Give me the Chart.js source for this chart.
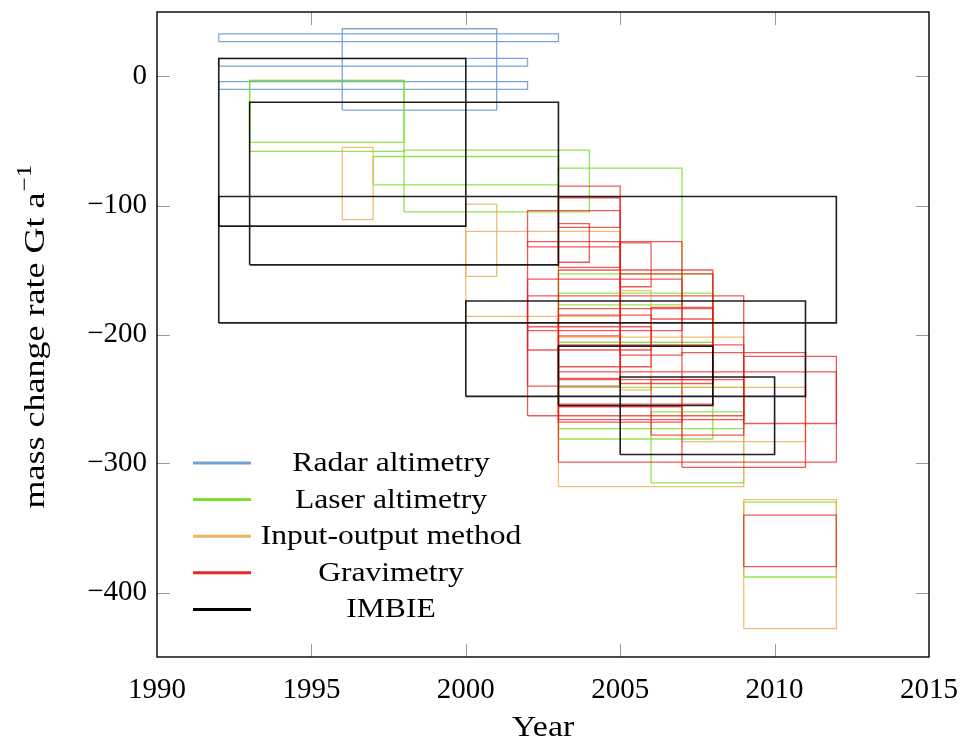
<!DOCTYPE html>
<html>
<head>
<meta charset="utf-8">
<script src="https://cdn.jsdelivr.net/npm/chart.js@4/dist/chart.umd.min.js"></script>
<style>
html,body{margin:0;padding:0;background:#fff;}
#wrap{width:963px;height:742px;position:relative;}
</style>
</head>
<body>
<div id="wrap"><canvas id="c" width="963" height="742"></canvas></div>
<script>
// ---------- data (years span, rate range in Gt/a) ----------
const seriesNames = ['Radar altimetry', 'Laser altimetry', 'Input-output method', 'Gravimetry', 'IMBIE'];
const xTitle = 'Year';
const yTitle = 'mass change rate Gt a';
const yTitleSup = '\u22121';

const radarStart = [1992, 1992, 1992, 1996];
const radarEnd   = [2003, 2002, 2002, 2001];
const radarLow   = [27, 8, -10, -26];
const radarHigh  = [33, 14, -4, 37];

const laserStart = [1993, 1993, 1997, 1998, 2003, 2003, 2003, 2003, 2006, 2009];
const laserEnd   = [1998, 1998, 2003, 2004, 2007, 2008, 2008, 2009, 2009, 2012];
const laserLow   = [-51, -58, -84, -105, -177, -206, -281, -273, -315, -388];
const laserHigh  = [-3, -3, -62, -57, -71, -153, -168, -241, -260, -330];

const ioStart = [1996, 2000, 2000, 2005, 2007, 2003, 2009];
const ioEnd   = [1997, 2001, 2005, 2006, 2011, 2009, 2012];
const ioLow   = [-111, -155, -186, -243, -283, -318, -428];
const ioHigh  = [-55, -99, -120, -166, -241, -202, -328];

const gravStart = [2003, 2003, 2002, 2003, 2005, 2005, 2002, 2003, 2005, 2002, 2002, 2006, 2003, 2003, 2002, 2003, 2006, 2003, 2007, 2009, 2003, 2003, 2009];
const gravEnd   = [2005, 2005, 2005, 2004, 2006, 2007, 2005, 2008, 2008, 2007, 2009, 2008, 2008, 2006, 2006, 2009, 2009, 2007, 2011, 2012, 2012, 2005, 2012];
const gravLow   = [-117, -148, -132, -144, -163, -216, -240, -254, -238, -197, -263, -188, -235, -225, -212, -266, -278, -268, -303, -269, -299, -234, -380];
const gravHigh  = [-85, -94, -104, -114, -129, -128, -128, -150, -153, -157, -170, -179, -180, -185, -194, -208, -235, -256, -214, -217, -229, -201, -340];

const imbieStart = [1992, 1993, 1992, 2000, 2003, 2005];
const imbieEnd   = [2000, 2003, 2012, 2011, 2008, 2010];
const imbieLow   = [-116, -146, -191, -248, -255, -293];
const imbieHigh  = [14, -20, -93, -174, -209, -233];

const xTicks = [1990, 1995, 2000, 2005, 2010, 2015];
const yTicks = [-400, -300, -200, -100, 0];

// ---------- styles ----------
const boxColors = ['rgba(100,150,212,0.85)', 'rgba(120,222,35,0.8)', 'rgba(236,172,85,0.8)', 'rgba(236,25,25,0.72)', 'rgba(0,0,0,0.88)'];
const legendColors = ['#73a1d6', '#7ee02a', '#eab464', '#e8262a', '#000000'];
const FONT = '"Liberation Serif", "DejaVu Serif", serif';
const WIDEN = 1.17; // approximate the wider Computer Modern letterforms

function boxes(s, e, lo, hi, k) {
  return s.map((x0, i) => ({
    label: seriesNames[k],
    data: [
      {x: x0, y: lo[i]}, {x: e[i], y: lo[i]}, {x: e[i], y: hi[i]},
      {x: x0, y: hi[i]}, {x: x0, y: lo[i]}
    ],
    showLine: true,
    fill: false,
    tension: 0,
    pointRadius: 0,
    pointHoverRadius: 0,
    borderColor: boxColors[k],
    borderWidth: k === 4 ? 1.6 : 1.3,
    order: 4 - k
  }));
}

const datasets = [].concat(
  boxes(radarStart, radarEnd, radarLow, radarHigh, 0),
  boxes(laserStart, laserEnd, laserLow, laserHigh, 1),
  boxes(ioStart, ioEnd, ioLow, ioHigh, 2),
  boxes(gravStart, gravEnd, gravLow, gravHigh, 3),
  boxes(imbieStart, imbieEnd, imbieLow, imbieHigh, 4)
);

function wideText(ctx, text, x, y, k) {
  ctx.save();
  ctx.translate(x, y);
  ctx.scale(k || WIDEN, 1);
  ctx.fillText(text, 0, 0);
  ctx.restore();
}

const framePlugin = {
  id: 'frame',
  afterDatasetsDraw(chart) {
    const {ctx, chartArea: a, scales: {x, y}} = chart;
    ctx.save();
    ctx.strokeStyle = '#9a9a9a';
    ctx.lineWidth = 1;
    const L = 13;
    xTicks.forEach(v => {
      const p = Math.round(x.getPixelForValue(v)) + 0.5;
      if (p <= a.left + 1 || p >= a.right - 1) return;
      ctx.beginPath(); ctx.moveTo(p, a.bottom); ctx.lineTo(p, a.bottom - L); ctx.stroke();
      ctx.beginPath(); ctx.moveTo(p, a.top); ctx.lineTo(p, a.top + L); ctx.stroke();
    });
    yTicks.forEach(v => {
      const p = Math.round(y.getPixelForValue(v)) + 0.5;
      ctx.beginPath(); ctx.moveTo(a.left, p); ctx.lineTo(a.left + L, p); ctx.stroke();
      ctx.beginPath(); ctx.moveTo(a.right, p); ctx.lineTo(a.right - L, p); ctx.stroke();
    });
    ctx.strokeStyle = '#000';
    ctx.lineWidth = 1.4;
    ctx.strokeRect(a.left, a.top, a.right - a.left, a.bottom - a.top);

    // legend inside the plot, lower left
    const rowY0 = a.bottom - 194, step = 36.6;
    const lx0 = a.left + 36, lx1 = a.left + 94, tx = a.left + 234;
    ctx.font = '27px ' + FONT;
    ctx.textAlign = 'center';
    ctx.textBaseline = 'middle';
    seriesNames.forEach((name, i) => {
      const yy = rowY0 + i * step;
      ctx.strokeStyle = legendColors[i];
      ctx.lineWidth = 3;
      ctx.beginPath(); ctx.moveTo(lx0, yy); ctx.lineTo(lx1, yy); ctx.stroke();
      ctx.fillStyle = '#000';
      wideText(ctx, name, tx, yy + 1);
    });

    // axis titles
    ctx.fillStyle = '#000';
    ctx.font = '29px ' + FONT;
    ctx.textAlign = 'center';
    ctx.textBaseline = 'middle';
    wideText(ctx, xTitle, (a.left + a.right) / 2, 728);

    ctx.save();
    ctx.translate(34, (a.top + a.bottom) / 2 + 2);
    ctx.rotate(-Math.PI / 2);
    ctx.scale(1.2, 1);
    ctx.font = '30px ' + FONT;
    const w1 = ctx.measureText(yTitle).width;
    ctx.font = '21px ' + FONT;
    const w2 = ctx.measureText(yTitleSup).width;
    const x0 = -(w1 + w2 + 1) / 2;
    ctx.textAlign = 'left';
    ctx.textBaseline = 'alphabetic';
    ctx.font = '30px ' + FONT;
    ctx.fillText(yTitle, x0, 10);
    ctx.font = '21px ' + FONT;
    ctx.fillText(yTitleSup, x0 + w1 + 1, -3);
    ctx.restore();

    ctx.restore();
  }
};

const fmt = v => (v < 0 ? '\u2212' + Math.abs(v) : String(v));

new Chart(document.getElementById('c'), {
  type: 'scatter',
  data: {datasets},
  options: {
    responsive: false,
    devicePixelRatio: 1,
    animation: false,
    events: [],
    layout: {padding: {left: 0, right: 34, top: 12, bottom: 0}},
    plugins: {legend: {display: false}, tooltip: {enabled: false}},
    scales: {
      x: {
        type: 'linear', min: 1990, max: 2015,
        grid: {display: false, drawTicks: false},
        border: {display: false},
        afterBuildTicks: s => { s.ticks = xTicks.map(v => ({value: v})); },
        afterFit: s => { s.height = 85; s.paddingLeft = 0; s.paddingRight = 0; },
        ticks: {
          callback: v => String(v), color: '#000', padding: 16, maxRotation: 0,
          font: {family: FONT, size: 29}
        },
        title: {display: false, text: xTitle}
      },
      y: {
        type: 'linear', min: -450, max: 50,
        grid: {display: false, drawTicks: false},
        border: {display: false},
        afterBuildTicks: s => { s.ticks = yTicks.map(v => ({value: v})); },
        afterFit: s => { s.width = 157; s.paddingTop = 0; s.paddingBottom = 0; },
        ticks: {
          callback: fmt, color: '#000', padding: 10,
          font: {family: FONT, size: 29}
        },
        title: {display: false, text: yTitle + yTitleSup}
      }
    }
  },
  plugins: [framePlugin]
});
</script>
</body>
</html>
